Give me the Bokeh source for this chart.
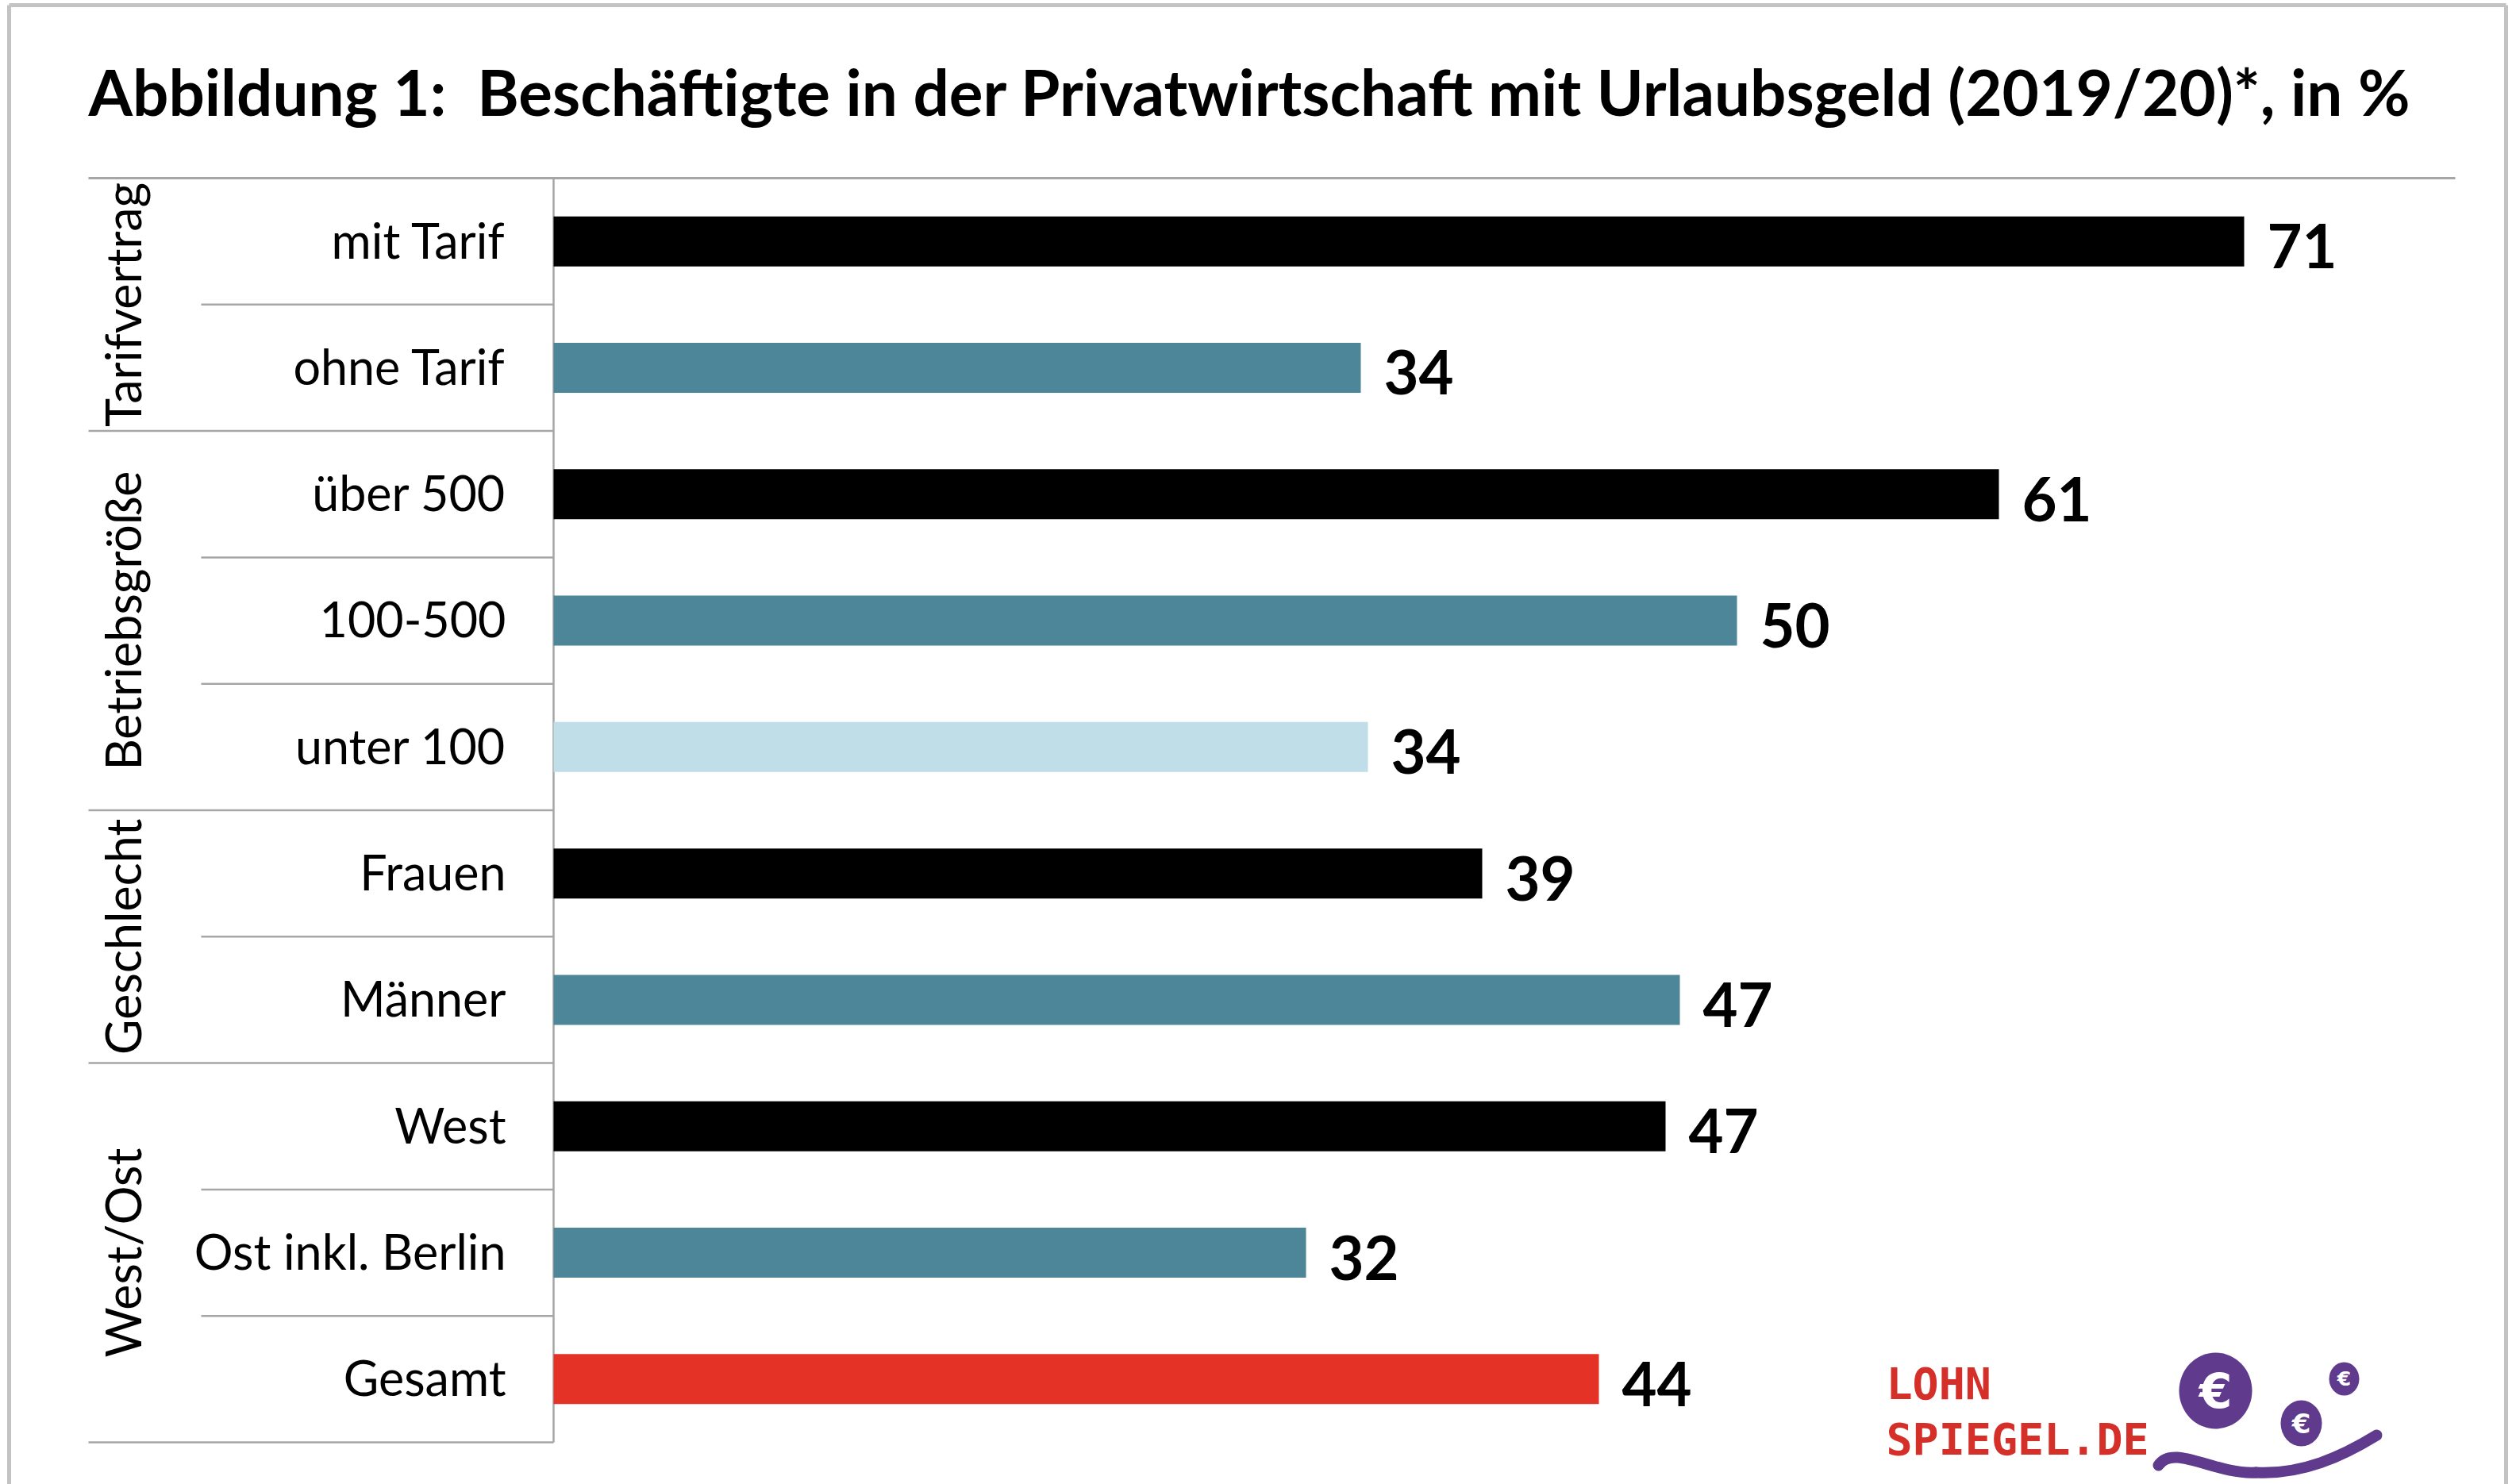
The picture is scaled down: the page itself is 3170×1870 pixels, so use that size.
from bokeh.plotting import figure
from bokeh.models import Range1d, ColumnDataSource
from bokeh.core.properties import value
from bokeh.embed import file_html
from bokeh.resources import INLINE
import math

# ---------------- data ----------------
title_text = "Abbildung 1:\u00a0 Beschäftigte in der Privatwirtschaft mit Urlaubsgeld (2019/20)*, in %"
categories = ["mit Tarif", "ohne Tarif", "über 500", "100-500", "unter 100",
              "Frauen", "Männer", "West", "Ost inkl. Berlin", "Gesamt"]
values = [71.0, 33.9, 60.7, 49.7, 34.2, 39.0, 47.3, 46.7, 31.6, 43.9]
value_labels = ["71", "34", "61", "50", "34", "39", "47", "47", "32", "44"]
bar_colors = ["#000000", "#4D8599", "#000000", "#4D8599", "#C0DEE7",
              "#000000", "#4D8599", "#000000", "#4D8599", "#E43326"]
groups = ["Tarifvertrag", "Betriebsgröße", "Geschlecht", "West/Ost"]
group_sizes = [2, 3, 2, 3]

# ---------------- layout helpers (page pixel -> data) ----------------
W, H = 3170, 1870
X0, UX = 697.0, 30.0          # x pixel of value 0, pixels per percent
Y0, UY = 303.65, 159.3        # y pixel of first row centre, pixels per row
def dx(X): return (X - X0) / UX
def dy(Y): return (Y - Y0) / UY

p = figure(width=W, height=H,
           x_range=Range1d(dx(0), dx(W)),
           y_range=Range1d(dy(H), dy(0)),
           output_backend="svg", toolbar_location=None, tools="",
           x_axis_location=None, y_axis_location=None, min_border=0,
           outline_line_color=None, background_fill_color="white",
           border_fill_color="white")
p.grid.visible = False

LINE = "#A6A6A6"
FONT = value("Lato")

# outer frame (top, left, right)
p.segment(x0=[dx(11), dx(11), dx(3157)], y0=[dy(6), dy(6), dy(6)],
          x1=[dx(3157), dx(11), dx(3157)], y1=[dy(6), dy(1880), dy(1880)],
          line_color="#C3C3C3", line_width=5)

# title
p.text(x=[dx(111)], y=[dy(114)], text=[title_text], text_font=FONT,
       text_font_style="bold", text_font_size="80px", text_color="#000000",
       text_align="left", text_baseline="alphabetic")

n = len(categories)
idx = list(range(n))

# top rule
p.segment(x0=[dx(111)], y0=[-0.5], x1=[dx(3093)], y1=[-0.5],
          line_color=LINE, line_width=3)
# axis line
p.segment(x0=[0], y0=[-0.5], x1=[0], y1=[n - 0.5], line_color=LINE, line_width=2.5)

# separators
group_bounds = []
acc = 0
for s in group_sizes:
    acc += s
    group_bounds.append(acc)
gx0, gy, sx0, sy = [], [], [], []
for k in range(1, n + 1):
    if k in group_bounds:
        gx0.append(dx(111)); gy.append(k - 0.5)
    else:
        sx0.append(dx(253)); sy.append(k - 0.5)
p.segment(x0=gx0, y0=gy, x1=[0] * len(gy), y1=gy, line_color=LINE, line_width=2.5)
p.segment(x0=sx0, y0=sy, x1=[0] * len(sy), y1=sy, line_color=LINE, line_width=2.5)

# bars
src = ColumnDataSource(dict(y=idx, v=values, c=bar_colors, cat=categories, lab=value_labels))
p.hbar(y="y", left=0, right="v", height=0.3955, fill_color="c", line_color=None, source=src)

# category labels
p.text(x=dx(637), y="y", text="cat", source=src, text_font=FONT,
       text_font_size="61px", text_color="#000000", text_align="right",
       text_baseline="alphabetic", y_offset=-2)

# value labels
p.text(x="v", y="y", text="lab", source=src, text_font=FONT,
       text_font_style="bold", text_font_size="76px", text_color="#000000",
       text_align="left", text_baseline="alphabetic", x_offset=29, y_offset=6)

# group labels (rotated)
gcent = []
start = 0
for s in group_sizes:
    gcent.append(start + (s - 1) / 2.0)
    start += s
p.text(x=[dx(154)] * len(groups), y=gcent, text=groups, text_font=FONT,
       text_font_size="61px", text_color="#000000", angle=math.pi / 2,
       text_align="center", text_baseline="alphabetic")

# logo
RED = "#D52F2A"
PURPLE = "#5F3A8D"
p.text(x=[dx(2376), dx(2376)], y=[dy(1743), dy(1813)], text=["LOHN", "SPIEGEL.DE"],
       text_font=value("DejaVu Sans Mono"), text_font_style="bold",
       text_font_size="55px", text_color=RED, text_align="left",
       text_baseline="alphabetic")
cx = [dx(2791), dx(2899), dx(2953)]
cy = [dy(1752), dy(1793), dy(1737)]
p.ellipse(x=cx, y=cy, width=[92, 52, 38], height=[96, 58, 42], width_units="screen",
          height_units="screen", fill_color=PURPLE, line_color=None)
for xx, yy, fs in zip(cx, cy, ["60px", "34px", "25px"]):
    p.text(x=[xx], y=[yy], text=["€"], text_font=value("DejaVu Sans"),
           text_font_style="bold", text_font_size=fs, text_color="white",
           text_align="center", text_baseline="middle")
p.bezier(x0=[dx(2719), dx(2842)], y0=[dy(1846), dy(1855)],
         x1=[dx(2842), dx(2994)], y1=[dy(1855), dy(1808)],
         cx0=[dx(2738), dx(2900)], cy0=[dy(1818), dy(1858)],
         cx1=[dx(2790), dx(2950)], cy1=[dy(1858), dy(1835)],
         line_color=PURPLE, line_width=14, line_cap="round")

open("out.html", "w").write(file_html(p, INLINE))
